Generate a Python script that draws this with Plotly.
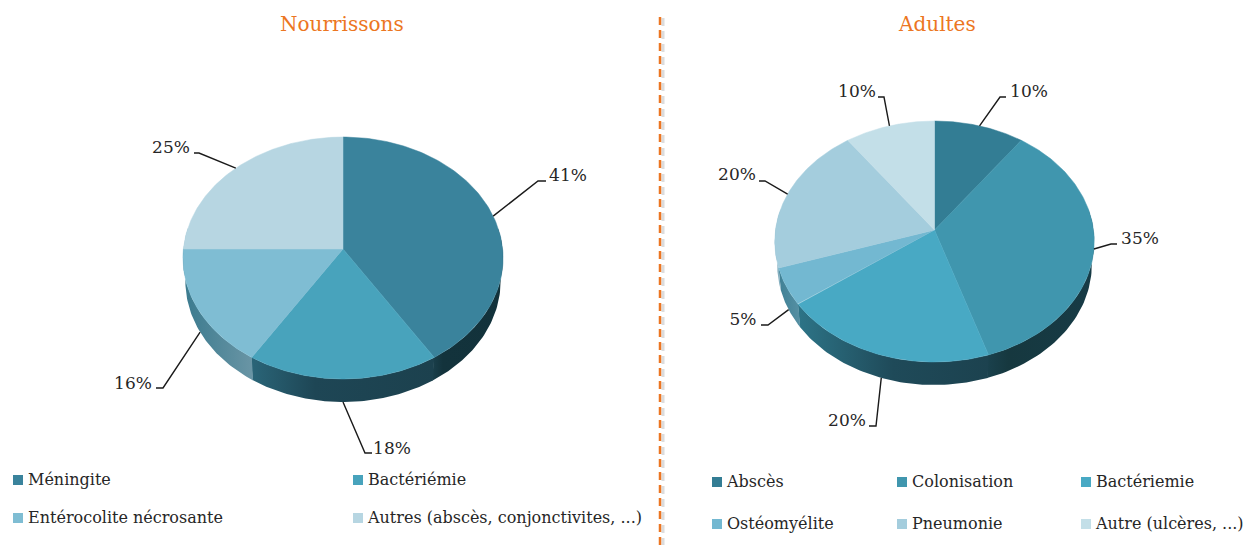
import numpy as np
import plotly.graph_objects as go

# Chart data
infant_labels = ["Méningite", "Bactériémie", "Entérocolite nécrosante", "Autres (abscès, conjonctivites, ...)"]
infant_values = [41, 18, 16, 25]
adult_labels = ["Abscès", "Colonisation", "Bactériemie", "Ostéomyélite", "Pneumonie", "Autre (ulcères, ...)"]
adult_values = [10, 35, 20, 5, 20, 10]

# Slice colours
infant_colors = ["#3a839c", "#48a3bc", "#7fbdd3", "#b7d6e2"]
adult_colors = ["#337d94", "#4096ae", "#48a9c4", "#73b8d1", "#a4cddd", "#c3dfe8"]

# Side wall gradients, left to right across each slice
infant_walls = [
    [[0, "#1a3f4b"], [0.15, "#13333c"], [1, "#12323b"]],
    [[0, "#2a6578"], [0.35, "#1e4655"], [1, "#1c414e"]],
    [[0, "#3a7a8e"], [1, "#6a95a5"]],
    [[0, "#8fb4c3"], [1, "#8fb4c3"]],
]
adult_walls = [
    [[0, "#1c4452"], [1, "#1c4452"]],
    [[0, "#1a414d"], [0.2, "#16383f"], [1, "#173b46"]],
    [[0, "#2d7487"], [0.5, "#1f4a59"], [1, "#1c424f"]],
    [[0, "#3f8095"], [1, "#5690a3"]],
    [[0, "#86b0c0"], [1, "#86b0c0"]],
    [[0, "#a0c4d2"], [1, "#a0c4d2"]],
]

# Pie geometry, in page pixels
infant_pie = dict(cx=343, cy=249, a=159.6, b=120.3, k=0.0744, depth=23)
adult_pie = dict(cx=934.5, cy=230, a=159, b=119.4, k=0.0954, depth=23)

# Leader elbows and label positions
infant_elbows = [((538, 181), (546, 181)), ((365, 453), (372, 453)), ((163, 388), (156, 388)), ((199, 153), (194, 153))]
infant_text_pos = [(568, 177), (392, 450), (133, 385), (171, 149)]
adult_elbows = [((1000, 97), (1006, 97)), ((1111, 244), (1117, 244)), ((876, 426), (869, 426)),
                ((768, 325), (761, 325)), ((765, 181), (759, 181)), ((884, 97), (878, 97))]
adult_text_pos = [(1029, 93), (1140, 240), (847, 422), (743, 321), (737, 176), (857, 93)]

# Legend layout
infant_legend = [(18, 481), (358, 481), (18, 519), (358, 519)]
adult_legend = [(717, 483), (902, 483), (1086, 483), (717, 525), (902, 525), (1086, 525)]

FONT = "DejaVu Serif"
ORANGE = "#ec7622"
TEXT_COLOR = "#262626"


# Project an angle (clockwise from the top) onto the tilted disc
def project(pie, t, drop=0.0, shrink=1.0):
    w = 1 + pie["k"] * np.cos(t)
    x = pie["cx"] + shrink * pie["a"] * np.sin(t) / w
    y = pie["cy"] - pie["b"] * np.cos(t) / w + drop
    return x, y


def add_pie(fig, pie, values, colors, walls, elbows, text_pos):
    edges = np.radians(np.cumsum([0] + values) * 360 / sum(values))

    # Side walls first, the top surface covers whatever hides behind it
    for i, (start, end) in enumerate(zip(edges[:-1], edges[1:])):
        lo, hi = max(start, np.radians(80)), min(end, np.radians(280))
        if lo >= hi:
            continue
        t = np.linspace(lo, hi + 0.004, 60)
        x1, y1 = project(pie, t)
        x2, y2 = project(pie, t, pie["depth"], 0.985)
        xs = np.concatenate([x1, x2[::-1]])
        ys = np.concatenate([y1, y2[::-1]])
        fig.add_trace(go.Scatter(
            x=xs, y=ys, mode="lines", fill="toself", line=dict(width=0),
            fillgradient=dict(type="horizontal", start=xs.min(), stop=xs.max(), colorscale=walls[i]),
        ))

    # Top surface
    for i, (start, end) in enumerate(zip(edges[:-1], edges[1:])):
        t = np.linspace(start, end, 120)
        x, y = project(pie, t)
        fig.add_trace(go.Scatter(
            x=np.concatenate([[pie["cx"]], x, [pie["cx"]]]),
            y=np.concatenate([[pie["cy"]], y, [pie["cy"]]]),
            mode="lines", fill="toself", fillcolor=colors[i],
            line=dict(width=0.5, color=colors[i]),
        ))

    # Leader lines start at the middle of each slice's outer edge
    mids = (edges[:-1] + edges[1:]) / 2
    for i, mid in enumerate(mids):
        drop = pie["depth"] if np.cos(mid) < -0.2 else 0
        x0, y0 = project(pie, mid, drop, 0.985 if drop else 1.0)
        elbow, end = elbows[i]
        fig.add_trace(go.Scatter(
            x=[x0, elbow[0], end[0]], y=[y0, elbow[1], end[1]], mode="lines",
            line=dict(color="#1a1a1a", width=1.4),
        ))

    fig.add_trace(go.Scatter(
        x=[p[0] for p in text_pos], y=[p[1] for p in text_pos], mode="text",
        text=[f"{v}%" for v in values], textposition="middle center",
        textfont=dict(family=FONT, size=17, color=TEXT_COLOR),
    ))


def add_legend(fig, labels, colors, positions):
    for label, color, pos in zip(labels, colors, positions):
        fig.add_trace(go.Scatter(
            x=[pos[0]], y=[pos[1] - 1], mode="markers",
            marker=dict(symbol="square", size=10, color=color),
        ))
        fig.add_trace(go.Scatter(
            x=[pos[0] + 10], y=[pos[1]], mode="text", text=[label],
            textposition="middle right",
            textfont=dict(family=FONT, size=16, color=TEXT_COLOR),
        ))


fig = go.Figure()
add_pie(fig, infant_pie, infant_values, infant_colors, infant_walls, infant_elbows, infant_text_pos)
add_pie(fig, adult_pie, adult_values, adult_colors, adult_walls, adult_elbows, adult_text_pos)
add_legend(fig, infant_labels, infant_colors, infant_legend)
add_legend(fig, adult_labels, adult_colors, adult_legend)

fig.add_annotation(x=342, y=24, text="Nourrissons", showarrow=False,
                   font=dict(family=FONT, size=20, color=ORANGE))
fig.add_annotation(x=937, y=24, text="Adultes", showarrow=False,
                   font=dict(family=FONT, size=20, color=ORANGE))

# Dashed divider with its soft shadow
fig.add_shape(type="line", x0=663, x1=663, y0=18, y1=545, layer="below",
              line=dict(color="#dcdcdc", width=3, dash="8px,5px"))
fig.add_shape(type="line", x0=660, x1=660, y0=17, y1=545,
              line=dict(color=ORANGE, width=2.5, dash="8px,5px"))

fig.update_xaxes(range=[0, 1255], visible=False, fixedrange=True)
fig.update_yaxes(range=[545, 0], visible=False, fixedrange=True)
fig.update_layout(
    width=1255, height=545, margin=dict(l=0, r=0, t=0, b=0),
    paper_bgcolor="white", plot_bgcolor="white", showlegend=False, hovermode=False,
)

fig.write_html("out.html", config={"displayModeBar": False},
               post_script="document.body.style.margin='0';document.body.style.overflow='hidden';")
